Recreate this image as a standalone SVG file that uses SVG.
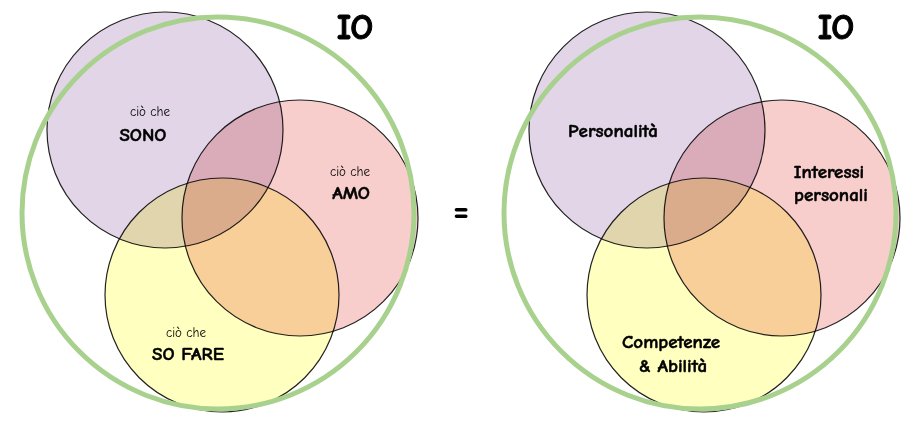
<svg xmlns="http://www.w3.org/2000/svg" width="924" height="426" viewBox="0 0 924 426">
<style>
.big{fill:none;stroke:#A9D18E;stroke-width:5}
.c{stroke:#222;stroke-width:1.2;mix-blend-mode:multiply}
.p{fill:#E1D5E7}.r{fill:#F8CECC}.y{fill:#FFFFBF}
text{font-family:"Comic Neue","Liberation Sans",sans-serif;fill:#000;text-anchor:middle}
.s{font-size:13px}.b{font-size:19px;font-weight:bold;stroke:#000;stroke-width:0.5}.io{font-size:36px;font-weight:bold;stroke:#000;stroke-width:1}
</style>
<rect width="924" height="426" fill="#fff"/>
<g id="left">
<g id="l-sono"><circle class="c p" cx="165" cy="130" r="118"/><text class="s" x="150" y="116">ciò che</text><text class="b" x="143" y="141">SONO</text></g>
<g id="l-amo"><circle class="c r" cx="300" cy="218" r="118"/><text class="s" x="350" y="176">ciò che</text><text class="b" x="351" y="199">AMO</text></g>
<g id="l-sofare"><circle class="c y" cx="222" cy="295" r="117"/><text class="s" x="186" y="337">ciò che</text><text class="b" x="188" y="360">SO FARE</text></g>
<g id="l-io"><circle class="big" cx="218" cy="213" r="196"/><text class="io" x="355" y="39">IO</text></g>
</g>
<g id="eq"><text x="461" y="222" style="font-size:36px;font-weight:bold">=</text></g>
<g id="right">
<g id="r-pers"><circle class="c p" cx="647" cy="130" r="118"/><text class="b" x="613" y="137">Personalità</text></g>
<g id="r-int"><circle class="c r" cx="782" cy="218" r="118"/><text class="b" x="829" y="178">Interessi</text><text class="b" x="831" y="201">personali</text></g>
<g id="r-comp"><circle class="c y" cx="704" cy="295" r="117"/><text class="b" x="671" y="348">Competenze</text><text class="b" x="673" y="372">&amp; Abilità</text></g>
<g id="r-io"><circle class="big" cx="700" cy="213" r="196"/><text class="io" x="836" y="39">IO</text></g>
</g>
<g id="connectors"/>
</svg>
